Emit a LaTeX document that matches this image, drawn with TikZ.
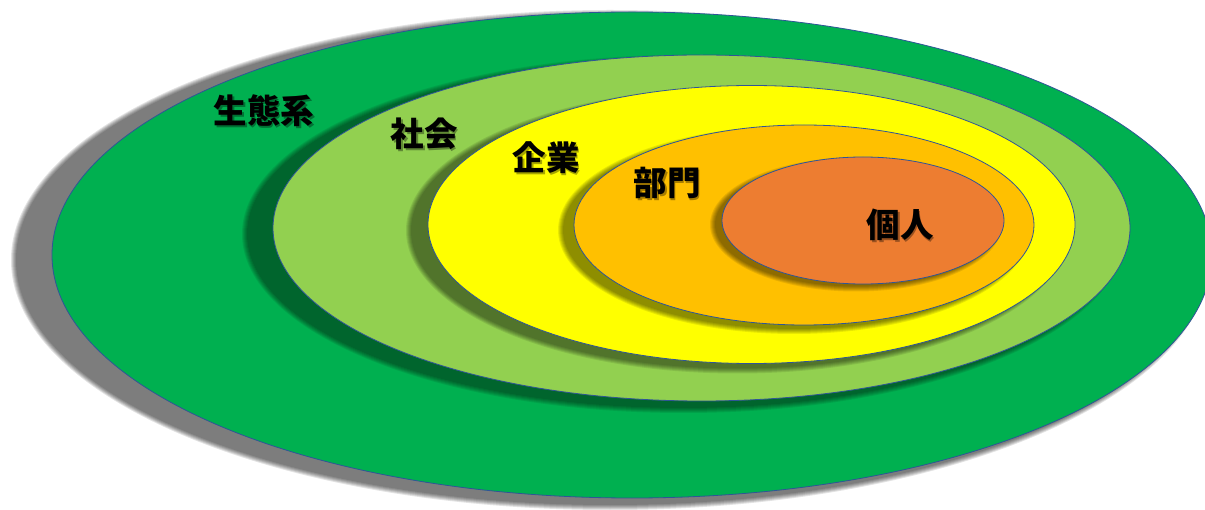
\documentclass[tikz,border=0pt]{standalone}
\usepackage{fontspec}
\newfontfamily\jpfont{Noto Sans CJK JP}
\usetikzlibrary{shapes.geometric}
\definecolor{ecoG}{HTML}{00B050}
\definecolor{socG}{HTML}{92D050}
\definecolor{entY}{HTML}{FFFF00}
\definecolor{depO}{HTML}{FFC000}
\definecolor{indO}{HTML}{ED7D31}
\definecolor{rimB}{HTML}{2F5597}
% #1,#2 centre, #3,#4 radii, #5 opacity per layer
\newcommand{\softshadow}[5]{%
  \foreach \k in {-3,-2,-1,0,1,2}{%
    \fill[black, fill opacity=#5] (#1,#2) ellipse ({#3+\k} and {#4+\k});
  }%
}
\tikzset{
  ring/.style={ellipse, inner sep=0pt, draw=rimB, line width=0.8pt},
  lbl/.style={font=\jpfont\bfseries\fontsize{33.5}{34}\selectfont, inner sep=0pt, text=black},
  lblshadow/.style={lbl, text=black, text opacity=0.35}
}
\begin{document}
\begin{tikzpicture}[x=1pt, y=-1pt]
\clip (0,0) rectangle (1205,510);
\fill[white] (0,0) rectangle (1205,510);
% outer: ecosystem
\softshadow{610}{260}{597}{248}{0.109}
\node[ring, fill=ecoG, minimum width=1160pt, minimum height=486pt] (eco) at (632,255) {};
% society
\softshadow{683.5}{234}{439.5}{177}{0.082}
\node[ring, fill=socG, minimum width=857pt, minimum height=346pt] (soc) at (701.5,228) {};
% enterprise
\softshadow{737.5}{230.5}{329.5}{141}{0.09}
\node[ring, fill=entY, minimum width=647pt, minimum height=278pt] (ent) at (751.5,224.5) {};
% department
\softshadow{794}{230}{234}{102}{0.09}
\node[ring, fill=depO, minimum width=460pt, minimum height=200pt] (dep) at (804,225) {};
% individual
\softshadow{856}{224.5}{144}{65}{0.09}
\node[ring, fill=indO, minimum width=282pt, minimum height=127pt] (ind) at (863,220.5) {};
% labels (shadow, then text)
\node[lblshadow] (t1s) at (265.5,112.5) {生態系};
\node[lbl] (t1) at (264,111) {生態系};
\node[lblshadow] (t2s) at (425.5,135.5) {社会};
\node[lbl] (t2) at (424,134) {社会};
\node[lblshadow] (t3s) at (547.5,159.5) {企業};
\node[lbl] (t3) at (546,158) {企業};
\node[lblshadow] (t4s) at (668.5,184.5) {部門};
\node[lbl] (t4) at (667,183) {部門};
\node[lblshadow] (t5s) at (901.5,226.5) {個人};
\node[lbl] (t5) at (900,225) {個人};
\end{tikzpicture}
\end{document}
